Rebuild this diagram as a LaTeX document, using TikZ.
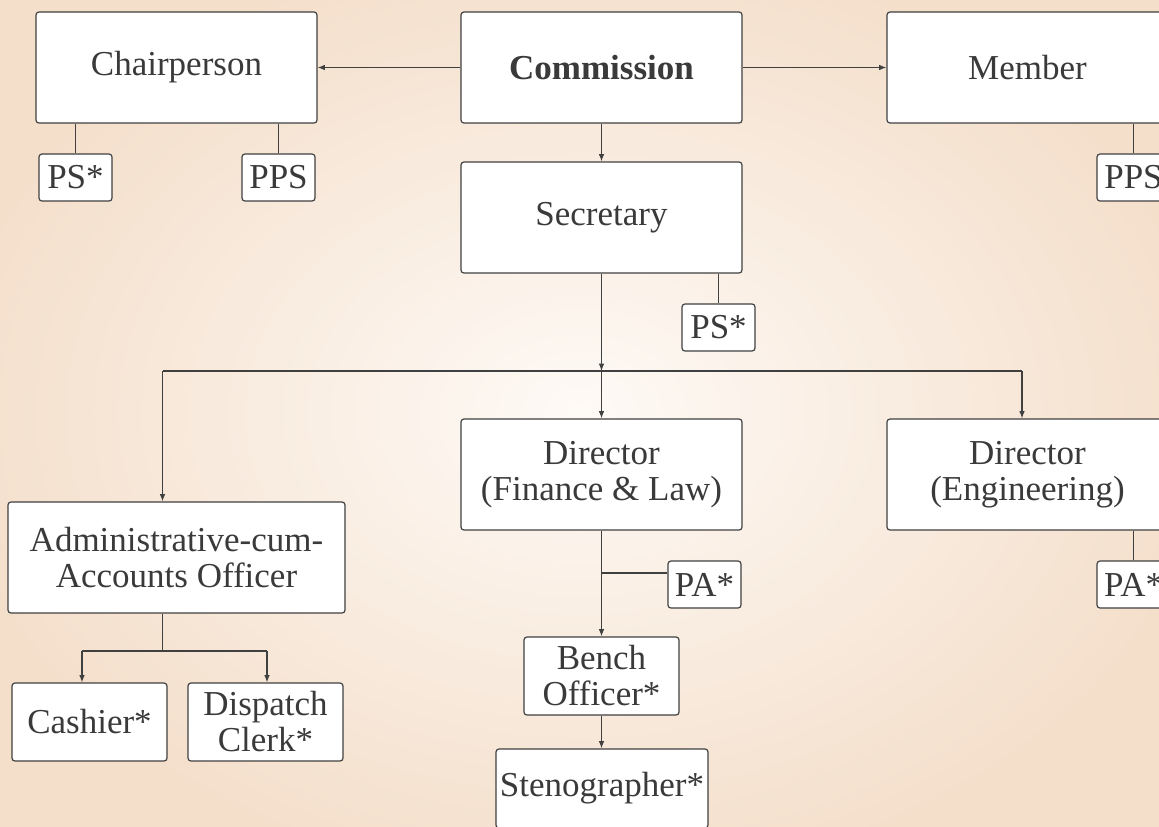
\documentclass[tikz,border=0pt]{standalone}
\usepackage{fontspec}
\setmainfont{Liberation Serif}
\usetikzlibrary{arrows.meta}
\definecolor{linec}{HTML}{404040}
\definecolor{textc}{HTML}{3A3A3A}
\definecolor{bgin}{HTML}{FEFAF6}
\definecolor{bgout}{HTML}{F4DFCB}
\tikzset{
  orgbox/.style={draw=linec, fill=white, rounded corners=2.2pt, line width=0.9pt,
    inner sep=0pt, align=center, text=textc,
    font=\fontsize{26.25}{27}\selectfont},
  bigbox/.style={orgbox, minimum width=210.75pt, minimum height=83.25pt},
  smallbox/.style={orgbox, minimum width=54.75pt, minimum height=35.25pt},
  midbox/.style={orgbox, minimum width=116.25pt, minimum height=58.5pt},
  conn/.style={draw=linec, line width=0.8pt},
  arr/.style={conn, -{Latex[length=5.5pt,width=4.2pt]}}
}
\begin{document}
\begin{tikzpicture}[x=0.75pt,y=-0.75pt]
\useasboundingbox (0,0) rectangle (1159,826);
\clip (0,0) rectangle (1159,826);
\shade[inner color=bgin, outer color=bgout] (-60,-60) rectangle (1219,886);

% top row
\node[bigbox] (chair) at (176.5,67.5) {Chairperson};
\node[bigbox, font=\fontsize{26.25}{27}\selectfont\bfseries] (comm) at (601.5,67.5) {Commission};
\node[bigbox] (member) at (1027.5,67.5) {Member};
\node[smallbox] (ps1) at (75.5,177.5) {PS*};
\node[smallbox] (pps1) at (278.5,177.5) {PPS};
\node[smallbox] (pps2) at (1133.5,177.5) {PPS};

% secretary
\node[bigbox] (sec) at (601.5,217.5) {Secretary};
\node[smallbox] (ps2) at (718.5,327.5) {PS*};

% third level
\node[orgbox, minimum width=252.75pt, minimum height=83.25pt] (admin) at (176.5,557.5) {Administrative-cum-\\Accounts Officer};
\node[bigbox] (dfl) at (601.5,474.5) {Director\\(Finance \& Law)};
\node[bigbox] (deng) at (1027.5,474.5) {Director\\(Engineering)};
\node[smallbox] (pa1) at (704.5,584.5) {PA*};
\node[smallbox] (pa2) at (1133.5,584.5) {PA*};

% lower level
\node[midbox] (cash) at (89.5,722) {Cashier*};
\node[midbox] (disp) at (265.5,722) {Dispatch\\Clerk*};
\node[midbox] (bench) at (601.5,676) {Bench\\Officer*};
\node[orgbox, minimum width=159pt, minimum height=59.25pt] (steno) at (602,788.5) {Stenographer*};

% helper coordinates
\coordinate (bar) at (601.5,371);
\coordinate (barL) at (162.5,371);
\coordinate (barR) at (1022,371);
\coordinate (brF) at (601.5,573);
\coordinate (adm) at (162.5,651);
\coordinate (admL) at (82,651);
\coordinate (admR) at (267,651);

% connectors
\draw[arr] (comm.west) -- (chair.east);
\draw[arr] (comm.east) -- (member.west);
\draw[arr] (comm.south) -- (sec.north);
\draw[conn] (ps1.north) -- (ps1.north |- chair.south);
\draw[conn] (pps1.north) -- (pps1.north |- chair.south);
\draw[conn] (pps2.north) -- (pps2.north |- member.south);
\draw[conn] (ps2.north) -- (ps2.north |- sec.south);
\draw[arr] (sec.south) -- (bar);
\draw[conn] (barL) -- (barR);
\draw[arr] (barL) -- (barL |- admin.north);
\draw[arr] (bar) -- (dfl.north);
\draw[arr] (barR) -- (barR |- deng.north);
\draw[arr] (dfl.south) -- (bench.north);
\draw[conn] (brF) -- (brF -| pa1.west);
\draw[conn] (pa2.north) -- (pa2.north |- deng.south);
\draw[conn] (adm |- admin.south) -- (adm);
\draw[conn] (admL) -- (admR);
\draw[arr] (admL) -- (admL |- cash.north);
\draw[arr] (admR) -- (admR |- disp.north);
\draw[arr] (bench.south) -- (bench.south |- steno.north);
\end{tikzpicture}
\end{document}
